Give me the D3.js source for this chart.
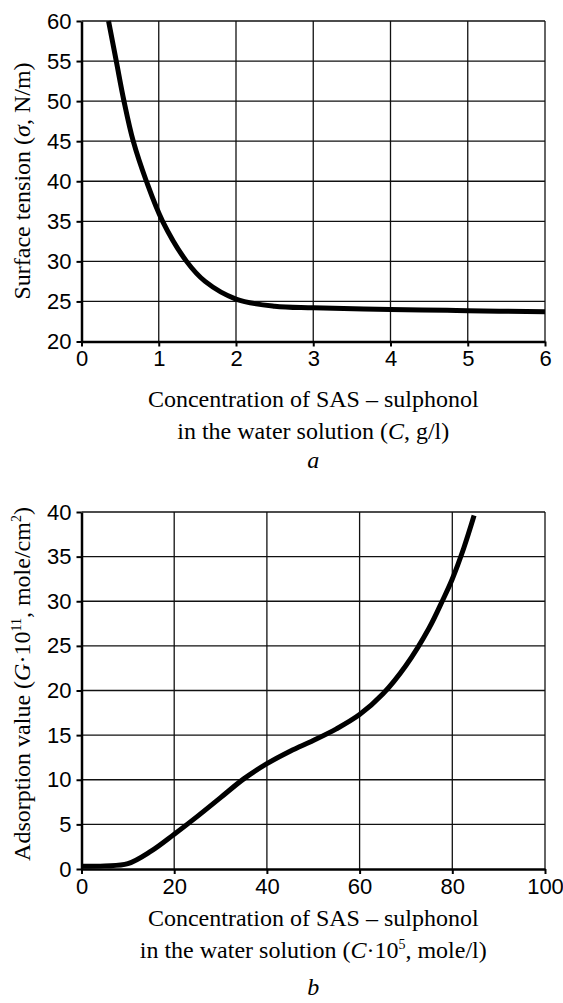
<!DOCTYPE html>
<html>
<head>
<meta charset="utf-8">
<script src="https://cdn.jsdelivr.net/npm/d3@7"></script>
<style>
  body { margin: 0; background: #fff; }
  .tick text { font-family: "Liberation Sans", Arial, sans-serif; font-size: 22px; fill: #000; }
  .title { font-family: "Liberation Serif", "Times New Roman", serif; font-size: 24px; fill: #000; }
</style>
</head>
<body>
<div id="chart"></div>
<script>
// Chart a: surface tension vs concentration (g/l)
const tensionC     = [0.35, 0.45, 0.55, 0.67, 0.84, 1.05, 1.36, 1.6, 2.0, 2.5, 3.0, 4.0, 5.0, 6.0];
const tensionSigma = [60, 55, 50, 45, 40, 35, 30, 27.5, 25.3, 24.4, 24.2, 24.0, 23.85, 23.7];
const xTicksA = [0, 1, 2, 3, 4, 5, 6];
const yTicksA = [20, 25, 30, 35, 40, 45, 50, 55, 60];

// Chart b: adsorption vs concentration (C·10^5 mole/l)
const adsorptionC = [0, 5, 10, 15, 20, 25, 30, 35, 40, 45, 50, 55, 60, 65, 70, 75, 78, 80, 82.5, 84.7];
const adsorptionG = [0.3, 0.35, 0.6, 2, 3.9, 5.9, 8, 10.1, 11.8, 13.2, 14.4, 15.7, 17.3, 19.6, 22.8, 27, 30.2, 32.5, 36, 39.6];
const xTicksB = [0, 20, 40, 60, 80, 100];
const yTicksB = [0, 5, 10, 15, 20, 25, 30, 35, 40];

const width = 563, height = 1003;

const svg = d3.select("#chart")
    .append("svg")
    .attr("width", width)
    .attr("height", height);

// write a title made of plain / italic / superscript pieces
function richText(el, parts) {
    let raised = false;
    parts.forEach(function(p) {
        const ts = el.append("tspan").text(p.t);
        if (p.i) ts.style("font-style", "italic");
        if (p.sup && !raised) { ts.attr("dy", -9).style("font-size", "14px"); raised = true; }
        else if (!p.sup && raised) { ts.attr("dy", 9); raised = false; }
        else if (p.sup) ts.style("font-size", "14px");
    });
}

function drawChart(cfg) {
    const x = d3.scaleLinear().domain(cfg.xDomain).range([cfg.left, cfg.right]);
    const y = d3.scaleLinear().domain(cfg.yDomain).range([cfg.bottom, cfg.top]);
    const g = svg.append("g");

    // grid
    g.append("g").selectAll("line.v")
        .data(cfg.xTicks.slice(1))
        .enter().append("line")
            .attr("x1", d => x(d)).attr("x2", d => x(d))
            .attr("y1", cfg.top).attr("y2", cfg.bottom)
            .attr("stroke", "#111").attr("stroke-width", 1.3);
    g.append("g").selectAll("line.h")
        .data(cfg.yTicks.slice(1))
        .enter().append("line")
            .attr("x1", cfg.left).attr("x2", cfg.right)
            .attr("y1", d => y(d)).attr("y2", d => y(d))
            .attr("stroke", "#111").attr("stroke-width", 1.3);

    // axes
    const xAxis = g.append("g")
        .attr("transform", `translate(0,${cfg.bottom})`)
        .call(d3.axisBottom(x).tickValues(cfg.xTicks).tickFormat(d3.format("d"))
            .tickSize(5).tickSizeOuter(0).tickPadding(4));
    const yAxis = g.append("g")
        .attr("transform", `translate(${cfg.left},0)`)
        .call(d3.axisLeft(y).tickValues(cfg.yTicks).tickFormat(d3.format("d"))
            .tickSize(5).tickSizeOuter(0).tickPadding(5));
    [xAxis, yAxis].forEach(function(a) {
        a.attr("font-family", null).attr("font-size", null);
        a.select(".domain").attr("stroke", "#000").attr("stroke-width", 2.5);
        a.selectAll(".tick line").attr("stroke", "#000").attr("stroke-width", 2);
    });

    // curve
    const pts = cfg.xs.map((d, i) => [d, cfg.ys[i]]);
    g.append("path")
        .datum(pts)
        .attr("fill", "none")
        .attr("stroke", "#000")
        .attr("stroke-width", 5)
        .attr("d", d3.line()
            .x(d => x(d[0]))
            .y(d => y(d[1]))
            .curve(d3.curveCatmullRom.alpha(0.5)));

    // titles
    const cx = (cfg.left + cfg.right) / 2;
    richText(g.append("text").attr("class", "title")
        .attr("x", cx).attr("y", cfg.xLabelY[0]).attr("text-anchor", "middle"), cfg.xLabel1);
    richText(g.append("text").attr("class", "title")
        .attr("x", cx).attr("y", cfg.xLabelY[1]).attr("text-anchor", "middle"), cfg.xLabel2);
    g.append("text").attr("class", "title")
        .attr("x", cx).attr("y", cfg.xLabelY[2]).attr("text-anchor", "middle")
        .style("font-style", "italic")
        .text(cfg.letter);
    richText(g.append("text").attr("class", "title")
        .attr("transform", `translate(${cfg.yLabelX},${cfg.yLabelMid}) rotate(-90)`)
        .attr("text-anchor", "middle"), cfg.yLabel);
}

drawChart({
    xDomain: [0, 6], yDomain: [20, 60],
    left: 81.5, right: 545, top: 21, bottom: 341.5,
    xTicks: xTicksA, yTicks: yTicksA,
    xs: tensionC, ys: tensionSigma,
    xLabel1: [{t: "Concentration of SAS – sulphonol"}],
    xLabel2: [{t: "in the water solution ("}, {t: "C", i: true}, {t: ", g/l)"}],
    xLabelY: [407, 439, 468],
    letter: "a",
    yLabel: [{t: "Surface tension ("}, {t: "σ", i: true}, {t: ", N/m)"}],
    yLabelX: 30, yLabelMid: 181
});

drawChart({
    xDomain: [0, 100], yDomain: [0, 40],
    left: 81.5, right: 545, top: 512, bottom: 869,
    xTicks: xTicksB, yTicks: yTicksB,
    xs: adsorptionC, ys: adsorptionG,
    xLabel1: [{t: "Concentration of SAS – sulphonol"}],
    xLabel2: [{t: "in the water solution ("}, {t: "C", i: true}, {t: "·10"}, {t: "5", sup: true}, {t: ", mole/l)"}],
    xLabelY: [926, 958, 995],
    letter: "b",
    yLabel: [{t: "Adsorption value ("}, {t: "G", i: true}, {t: "·10"}, {t: "11", sup: true}, {t: ", mole/cm"}, {t: "2", sup: true}, {t: ")"}],
    yLabelX: 30, yLabelMid: 684
});
</script>
</body>
</html>
